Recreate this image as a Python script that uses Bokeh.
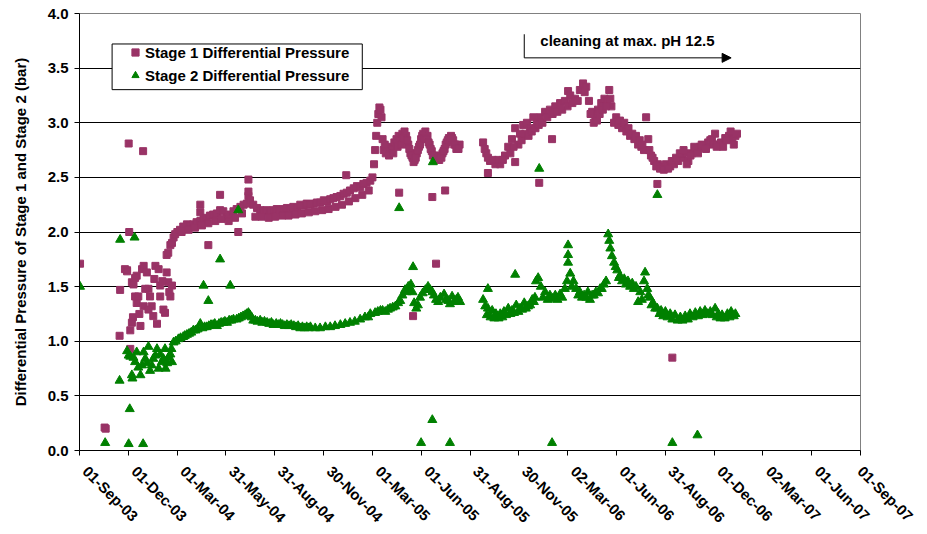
import math
from bokeh.plotting import figure
from bokeh.models import (ColumnDataSource, FixedTicker, Legend, LegendItem, Label, LinearAxis,
                          Arrow, NormalHead, Range1d, PrintfTickFormatter, BoxAnnotation)
from bokeh.embed import file_html
from bokeh.resources import INLINE

# x values: days since 01-Sep-2003 ; y values: differential pressure (bar)
x_span_days = 1461
tick_labels = ["01-Sep-03", "01-Dec-03", "01-Mar-04", "31-May-04", "31-Aug-04", "30-Nov-04",
               "01-Mar-05", "01-Jun-05", "31-Aug-05", "30-Nov-05", "02-Mar-06", "01-Jun-06",
               "31-Aug-06", "01-Dec-06", "02-Mar-07", "01-Jun-07", "01-Sep-07"]
y_ticks = [0.0, 0.5, 1.0, 1.5, 2.0, 2.5, 3.0, 3.5, 4.0]

stage1 = [
    # outliers
    (1, 1.71), (47, 0.21), (49, 0.20), (75, 1.05), (76, 1.47), (89, 1.65), (92, 2.81), (93, 2.00),
    (95, 0.93), (119, 2.74), (241, 1.88), (263, 2.34), (297, 2.00), (316, 2.48), (499, 2.52),
    (598, 2.36), (624, 1.23), (660, 2.32), (667, 1.71), (684, 2.38), (764, 2.54), (815, 2.64),
    (860, 2.45), (884, 2.85), (914, 3.29), (1081, 2.44), (1109, 0.85),
    # start-up scatter
    (85, 1.66), (89, 1.64), (98, 1.54), (101, 1.52), (104, 1.41), (107, 1.35), (98, 1.17), (95, 1.10),
    (114, 1.14), (117, 1.66), (120, 1.69), (126, 1.63), (129, 1.48), (132, 1.41), (135, 1.32),
    (138, 1.23), (145, 1.16), (142, 1.69), (148, 1.66), (151, 1.51), (151, 1.41), (157, 1.29),
    (160, 1.26), (163, 1.63), (166, 1.54), (173, 1.51), (170, 1.41), (123, 1.48), (120, 1.32),
    (129, 1.29), (110, 1.41), (107, 1.60), (100, 1.22), (112, 1.25), (104, 1.58), (155, 1.55),
    (140, 1.57), (168, 1.45),
    # first period
    (163, 1.79), (166, 1.81), (170, 1.88), (173, 1.90), (176, 1.95), (179, 1.98), (183, 2.00),
    (188, 2.02), (194, 2.05), (201, 2.07), (207, 2.06), (213, 2.07), (219, 2.09), (226, 2.10),
    (226, 2.18), (226, 2.25), (232, 2.12), (238, 2.13), (244, 2.15), (250, 2.16), (257, 2.17),
    (263, 2.20), (269, 2.19), (276, 2.14), (282, 2.16), (288, 2.19), (294, 2.21), (301, 2.23),
    (307, 2.25), (313, 2.26), (316, 2.33), (316, 2.37), (319, 2.29), (325, 2.25), (332, 2.22),
    (338, 2.20), (344, 2.19), (350, 2.20), (357, 2.19), (363, 2.20), (369, 2.21), (375, 2.20),
    (382, 2.21), (388, 2.22), (394, 2.21), (400, 2.23), (407, 2.22), (413, 2.25), (419, 2.24),
    (425, 2.26), (432, 2.25), (438, 2.26), (444, 2.27), (450, 2.27), (457, 2.29), (463, 2.28),
    (469, 2.30), (475, 2.31), (481, 2.32), (488, 2.33), (494, 2.35), (500, 2.36), (506, 2.38),
    (513, 2.40), (519, 2.42), (525, 2.41), (531, 2.44), (537, 2.45), (544, 2.47), (548, 2.50),
    (551, 2.62), (553, 2.75), (555, 2.88), (557, 3.00), (559, 3.08), (561, 3.14), (563, 3.12),
    (565, 3.05), (567, 2.85), (569, 2.75), (573, 2.72), (577, 2.74), (581, 2.78), (585, 2.76),
    (589, 2.82), (593, 2.85), (597, 2.88), (600, 2.84), (604, 2.90), (608, 2.92), (611, 2.88),
    (615, 2.80), (619, 2.72), (623, 2.68), (627, 2.66), (631, 2.72), (635, 2.78), (639, 2.85),
    (643, 2.90), (647, 2.92), (651, 2.88), (655, 2.80), (659, 2.74), (663, 2.70), (667, 2.68),
    (671, 2.66), (675, 2.70), (679, 2.72), (683, 2.76), (687, 2.82), (691, 2.86), (695, 2.88),
    (699, 2.84), (703, 2.80), (707, 2.78), (711, 2.80),
    (191, 2.00), (204, 2.02), (216, 2.04), (229, 2.06), (241, 2.08), (254, 2.10), (266, 2.12),
    (279, 2.10), (291, 2.13), (304, 2.17),
    (329, 2.14), (341, 2.14), (354, 2.13), (366, 2.14), (379, 2.15), (391, 2.15), (404, 2.16),
    (416, 2.17), (429, 2.18), (441, 2.19), (454, 2.20), (466, 2.21), (479, 2.23), (491, 2.25),
    (504, 2.28), (516, 2.31), (529, 2.34), (541, 2.38),
    (571, 2.80), (579, 2.70), (587, 2.72), (595, 2.78), (602, 2.80), (606, 2.86), (613, 2.84),
    (617, 2.76), (621, 2.70), (625, 2.64), (629, 2.68), (633, 2.75), (637, 2.80), (641, 2.88),
    (645, 2.86), (649, 2.85), (653, 2.82), (657, 2.76), (661, 2.70), (665, 2.66), (669, 2.68),
    (673, 2.66), (677, 2.68), (681, 2.74), (685, 2.80), (689, 2.84), (693, 2.84), (697, 2.86),
    (701, 2.80), (705, 2.76), (709, 2.76),
    # second period
    (755, 2.82), (761, 2.72), (768, 2.65), (778, 2.62), (787, 2.62), (796, 2.70), (802, 2.78),
    (809, 2.85), (815, 2.95), (821, 2.80), (824, 2.90), (830, 2.98), (837, 3.00), (843, 2.95),
    (849, 3.05), (856, 3.00), (862, 3.05), (871, 3.10), (880, 3.12), (890, 3.15), (899, 3.18),
    (908, 3.20), (918, 3.25), (927, 3.22), (936, 3.30), (942, 3.36), (948, 3.33), (953, 3.20),
    (959, 3.10), (965, 3.05), (970, 3.12), (976, 3.18), (982, 3.22), (987, 3.20), (991, 3.30),
    (995, 3.15), (1000, 3.00), (1008, 2.98), (1015, 2.95), (1023, 2.92), (1030, 2.88),
    (1038, 2.85), (1045, 2.80), (1051, 2.78), (1056, 2.75), (1060, 3.05), (1064, 2.85),
    (1069, 2.70), (1075, 2.65), (1082, 2.62), (1090, 2.60), (1097, 2.62), (1105, 2.60),
    (1112, 2.62), (1120, 2.65), (1127, 2.68), (1133, 2.72), (1139, 2.65), (1146, 2.72),
    (1154, 2.75), (1161, 2.78), (1168, 2.78), (1176, 2.82), (1183, 2.85), (1189, 2.90),
    (1195, 2.80), (1200, 2.82), (1208, 2.86), (1215, 2.88), (1221, 2.85), (1227, 2.88),
    (758, 2.76), (764, 2.68), (773, 2.66), (783, 2.66), (792, 2.66), (806, 2.72), (812, 2.78),
    (827, 2.84), (834, 2.90), (840, 2.88), (846, 2.92), (853, 2.95), (859, 2.98), (866, 3.00),
    (875, 3.05), (885, 3.08), (894, 3.10), (903, 3.12), (913, 3.15), (922, 3.18), (932, 3.20),
    (945, 3.28), (956, 3.08), (962, 3.00), (968, 3.02), (973, 3.08), (979, 3.12), (985, 3.15),
    (993, 3.22), (1004, 3.05), (1011, 3.02), (1019, 3.00), (1027, 2.95), (1034, 2.90),
    (1041, 2.88), (1048, 2.84), (1053, 2.80), (1066, 2.75), (1072, 2.68), (1079, 2.60),
    (1086, 2.58), (1093, 2.57), (1101, 2.58), (1108, 2.65), (1116, 2.68), (1123, 2.72),
    (1130, 2.75), (1136, 2.62), (1143, 2.70), (1150, 2.78), (1157, 2.72), (1164, 2.80),
    (1172, 2.76), (1180, 2.84), (1186, 2.80), (1192, 2.78), (1204, 2.78), (1211, 2.84),
    (1218, 2.92), (1224, 2.80), (1230, 2.90),
]

stage2 = [
    # outliers
    (1, 1.50), (48, 0.07), (75, 0.64), (76, 1.93), (94, 0.38), (92, 0.06), (103, 1.95), (119, 0.06),
    (232, 1.51), (241, 1.37), (263, 1.75), (282, 1.51), (297, 2.20), (598, 2.22), (624, 1.68),
    (639, 0.07), (660, 0.28), (661, 2.64), (693, 0.07), (764, 1.48), (815, 1.61), (860, 2.58),
    (884, 0.07), (1081, 2.34), (1109, 0.07), (1156, 0.14),
    # start-up scatter
    (89, 0.91), (92, 0.87), (98, 0.69), (99, 0.66), (104, 0.81), (107, 0.90), (114, 0.69),
    (117, 0.78), (120, 0.90), (123, 0.84), (129, 0.95), (132, 0.73), (138, 0.84), (145, 0.93),
    (148, 0.75), (151, 0.88), (154, 0.81), (160, 0.93), (161, 0.75), (166, 0.85), (173, 0.81),
    (172, 0.93), (110, 0.76), (126, 0.80), (135, 0.78), (142, 0.87), (157, 0.84), (164, 0.80),
    (170, 0.88), (101, 0.85), (95, 0.86),
    # first period
    (176, 0.99), (180, 1.00), (185, 1.02), (189, 1.03), (194, 1.04), (197, 1.05), (201, 1.06),
    (205, 1.07), (209, 1.08), (213, 1.10), (217, 1.10), (221, 1.11), (226, 1.16), (230, 1.12),
    (234, 1.13), (238, 1.13), (242, 1.14), (246, 1.15), (250, 1.15), (253, 1.16), (257, 1.14),
    (261, 1.16), (265, 1.17), (269, 1.17), (272, 1.18), (276, 1.17), (280, 1.19), (284, 1.19),
    (288, 1.20), (294, 1.20), (298, 1.21), (302, 1.22), (306, 1.23), (310, 1.24), (313, 1.25),
    (316, 1.26), (319, 1.24), (322, 1.22), (325, 1.19), (329, 1.19), (333, 1.18), (338, 1.19),
    (342, 1.17), (346, 1.18), (351, 1.17), (355, 1.16), (359, 1.17), (363, 1.15), (368, 1.16),
    (372, 1.15), (376, 1.16), (380, 1.15), (384, 1.14), (388, 1.15), (392, 1.14), (396, 1.15),
    (401, 1.14), (405, 1.13), (409, 1.14), (413, 1.12), (417, 1.13), (421, 1.12), (425, 1.13),
    (429, 1.12), (432, 1.13), (441, 1.12), (450, 1.12), (460, 1.13), (469, 1.13), (478, 1.14),
    (488, 1.15), (497, 1.16), (506, 1.17), (515, 1.18), (525, 1.20), (534, 1.22), (540, 1.22),
    (544, 1.25), (553, 1.26), (558, 1.27), (563, 1.28), (567, 1.28), (572, 1.27), (577, 1.29),
    (581, 1.30), (586, 1.31), (591, 1.32), (596, 1.35), (600, 1.37), (604, 1.42), (609, 1.47),
    (612, 1.45), (615, 1.50), (618, 1.46), (620, 1.52), (623, 1.45), (626, 1.35), (630, 1.30),
    (633, 1.33), (637, 1.40), (642, 1.44), (647, 1.47), (652, 1.50), (656, 1.47), (660, 1.45),
    (663, 1.42), (667, 1.38), (671, 1.36), (675, 1.40), (682, 1.43), (686, 1.38), (690, 1.37),
    (693, 1.34), (697, 1.41), (701, 1.36), (705, 1.38), (708, 1.40), (712, 1.36),
    # second period
    (755, 1.38), (759, 1.32), (764, 1.30), (772, 1.28), (779, 1.25), (787, 1.25), (794, 1.27),
    (802, 1.30), (809, 1.28), (817, 1.33), (824, 1.30), (832, 1.35), (839, 1.32), (847, 1.38),
    (852, 1.40), (854, 1.55), (858, 1.58), (863, 1.50), (871, 1.45), (880, 1.42), (890, 1.42),
    (899, 1.43), (908, 1.48), (912, 1.55), (914, 1.72), (914, 1.79), (914, 1.88), (918, 1.62),
    (924, 1.55), (929, 1.48), (936, 1.45), (944, 1.42), (951, 1.45), (959, 1.42), (966, 1.45),
    (974, 1.48), (981, 1.52), (985, 1.55), (989, 1.98), (991, 1.92), (993, 1.85), (996, 1.78),
    (1000, 1.72), (1006, 1.65), (1011, 1.60), (1019, 1.57), (1026, 1.55), (1034, 1.53),
    (1041, 1.50), (1045, 1.36), (1049, 1.45), (1056, 1.55), (1058, 1.63), (1062, 1.48),
    (1067, 1.40), (1073, 1.35), (1081, 1.30), (1088, 1.28), (1096, 1.27), (1105, 1.25),
    (1114, 1.24), (1124, 1.22), (1133, 1.23), (1142, 1.25), (1152, 1.26), (1161, 1.27),
    (1170, 1.28), (1180, 1.27), (1189, 1.30), (1195, 1.25), (1202, 1.24), (1212, 1.25),
    (1219, 1.27), (1227, 1.25),
    (762, 1.24), (769, 1.22), (776, 1.21), (784, 1.21), (791, 1.22), (798, 1.24), (806, 1.25),
    (813, 1.26), (821, 1.27), (828, 1.29), (835, 1.30), (843, 1.33), (850, 1.36), (867, 1.40),
    (876, 1.38), (885, 1.39), (894, 1.38), (903, 1.40), (921, 1.50), (933, 1.42), (940, 1.40),
    (948, 1.40), (955, 1.38), (962, 1.42), (970, 1.44), (977, 1.48), (1003, 1.68), (1009, 1.58),
    (1015, 1.55), (1022, 1.52), (1030, 1.50), (1037, 1.48), (1052, 1.38), (1064, 1.42),
    (1070, 1.33), (1077, 1.30), (1085, 1.25), (1092, 1.23), (1100, 1.22), (1109, 1.20),
    (1119, 1.19), (1128, 1.19), (1138, 1.20), (1147, 1.22), (1157, 1.23), (1166, 1.24),
    (1175, 1.25), (1184, 1.24), (1192, 1.22), (1199, 1.21), (1207, 1.21), (1216, 1.22),
    (1224, 1.23),
]

FONT = "Liberation Sans"
PURPLE = "#993366"
GREEN = "#008000"

src1 = ColumnDataSource(dict(x=[d for d, v in stage1], y=[v for d, v in stage1]))
src2 = ColumnDataSource(dict(x=[d for d, v in stage2], y=[v for d, v in stage2]))

p = figure(width=927, height=534, x_range=Range1d(0, x_span_days), y_range=Range1d(0, 4),
           output_backend="svg", toolbar_location=None,
           min_border_left=79, min_border_right=67, min_border_top=13, min_border_bottom=82)
p.background_fill_color = "white"
p.border_fill_color = "white"
p.outline_line_color = "#808080"

r1 = p.scatter("x", "y", source=src1, marker="square", size=7,
               fill_color=PURPLE, line_color=PURPLE)
r2 = p.scatter("x", "y", source=src2, marker="triangle", size=9,
               fill_color=GREEN, line_color=GREEN)

# x axis: tick marks on the main axis, rotated date labels on a second (tick-less) axis
tick_step = x_span_days / (len(tick_labels) - 1)
xticks = [i * tick_step for i in range(len(tick_labels))]
xa = p.xaxis[0]
xa.ticker = FixedTicker(ticks=xticks)
xa.major_label_overrides = {t: "" for t in xticks}
xa.major_label_text_font_size = "0px"
xa.major_label_standoff = 0
xa.major_tick_in = 0
xa.major_tick_out = 5
xa.minor_tick_line_color = None
xa.axis_line_color = "black"
xa.major_tick_line_color = "black"

# labels start about 6 px right of their tick, as in the original (last one stays inside the range)
label_shift = 11.25
lab_ticks = [min(t + label_shift, x_span_days) for t in xticks]
lab_axis = LinearAxis(ticker=FixedTicker(ticks=lab_ticks),
                      major_label_overrides={t: lab for t, lab in zip(lab_ticks, tick_labels)},
                      major_label_orientation=-math.pi / 4,
                      axis_line_color=None, major_tick_line_color=None, minor_tick_line_color=None,
                      major_tick_in=0, major_tick_out=0, major_label_standoff=13,
                      major_label_text_font=FONT, major_label_text_font_style="bold",
                      major_label_text_font_size="15px", major_label_text_color="black")
p.add_layout(lab_axis, "below")

ya = p.yaxis[0]
ya.ticker = FixedTicker(ticks=y_ticks)
ya.formatter = PrintfTickFormatter(format="%.1f")
ya.major_tick_in = 0
ya.major_tick_out = 5
ya.minor_tick_line_color = None
ya.axis_line_color = "black"
ya.major_tick_line_color = "black"
ya.major_label_text_font = FONT
ya.major_label_text_font_style = "bold"
ya.major_label_text_font_size = "15px"
ya.major_label_text_color = "black"
ya.major_label_standoff = 6
ya.axis_label = "Differential Pressure of Stage 1 and Stage 2 (bar)"
ya.axis_label_text_font = FONT
ya.axis_label_text_font_style = "bold"
ya.axis_label_text_font_size = "15px"
ya.axis_label_text_color = "black"
ya.axis_label_standoff = 16

p.xgrid.visible = False
p.ygrid.grid_line_color = "black"
p.ygrid.grid_line_width = 1

# legend frame
p.add_layout(BoxAnnotation(left=61, right=529, bottom=3.303, top=3.721,
                           fill_color="white", fill_alpha=1, line_color="black",
                           line_width=1, line_alpha=1))
legend = Legend(items=[LegendItem(label="Stage 1 Differential Pressure", renderers=[r1]),
                       LegendItem(label="Stage 2 Differential Pressure", renderers=[r2])],
                location=(47, 366), orientation="vertical")
legend.label_text_font = FONT
legend.label_text_font_style = "bold"
legend.label_text_font_size = "15px"
legend.label_text_color = "black"
legend.border_line_color = None
legend.background_fill_alpha = 0
legend.padding = 3
legend.spacing = 5
legend.margin = 0
legend.glyph_width = 18
legend.glyph_height = 18
legend.label_standoff = 1
legend.label_height = 18
p.add_layout(legend)

# annotation: cleaning period
p.add_layout(Arrow(end=None, x_start=832, y_start=3.81, x_end=832, y_end=3.594,
                   line_color="black", line_width=1))
p.add_layout(Arrow(end=NormalHead(size=9, fill_color="black", line_color="black"),
                   x_start=832, y_start=3.594, x_end=1219, y_end=3.594,
                   line_color="black", line_width=1))
p.add_layout(Label(x=862, y=3.757, text="cleaning at max. pH 12.5", text_font=FONT,
                   text_font_style="bold", text_font_size="15px", text_color="black",
                   text_baseline="middle"))

open("out.html", "w").write(file_html(p, INLINE))
